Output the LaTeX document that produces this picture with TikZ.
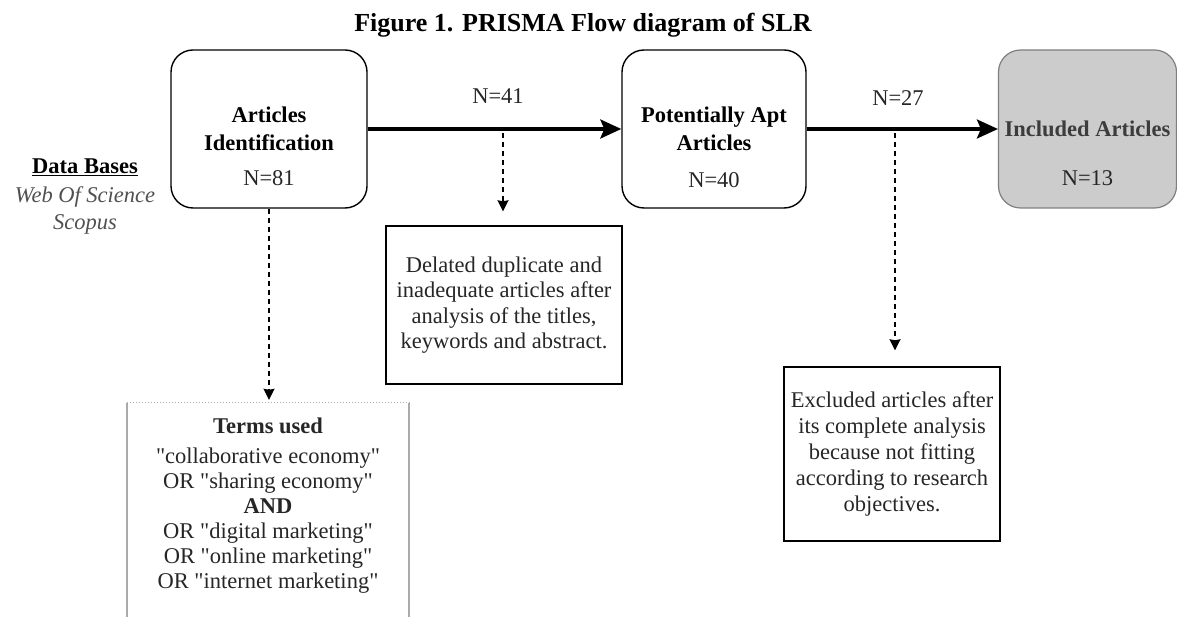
\documentclass[tikz,border=0pt]{standalone}
\usepackage{fontspec}
\setmainfont{Liberation Serif}[Ligatures=TeXOff]
\usetikzlibrary{arrows.meta,calc}
\definecolor{incfill}{HTML}{CCCCCC}
\definecolor{incdraw}{HTML}{7F7F7F}
\definecolor{inctext}{HTML}{3C3C3C}
\definecolor{dbgray}{HTML}{505050}
\definecolor{termline}{HTML}{AAAAAA}
\tikzset{
  txt/.style={font=\fontsize{22.5}{25.5}\selectfont, align=center, inner sep=0pt, text=black!85},
  btxt/.style={txt, font=\fontsize{22.5}{28}\selectfont\bfseries, text=black},
  rbox/.style={draw, line width=1.4pt, rounded corners=22pt, inner sep=0pt},
  sbox/.style={draw, line width=1.4pt, inner sep=0pt},
  mainarrow/.style={line width=3.2pt, -{Stealth[length=21pt,width=19pt,inset=4pt]}},
  dasharrow/.style={line width=1.5pt, dash pattern=on 5pt off 4pt, -{Stealth[length=11pt,width=11pt,inset=1pt]}},
}
\begin{document}
\begin{tikzpicture}[x=1pt,y=-1pt]
\useasboundingbox (0,0) rectangle (1177,617);

% title
\node[font=\fontsize{26}{28}\selectfont\bfseries, inner sep=0pt] (title) at (583,25) {Figure 1. PRISMA Flow diagram of SLR};

% data bases
\node[txt, font=\fontsize{22.5}{25.5}\selectfont\bfseries, text=black] (db) at (85,167) {\underline{Data Bases}};
\node[txt, font=\fontsize{22.5}{25.5}\selectfont\itshape, text=dbgray] (wos) at (85,197) {Web Of Science};
\node[txt, font=\fontsize{22.5}{25.5}\selectfont\itshape, text=dbgray] (sco) at (85,224) {Scopus};

% main boxes
\node[rbox, btxt, minimum width=196pt, minimum height=158pt] (b1) at (269,129) {Articles\\Identification};
\node[txt] (n81) at (269,178) {N=81};
\node[rbox, btxt, minimum width=184pt, minimum height=158pt] (b2) at (714,129) {Potentially Apt\\Articles};
\node[txt] (n40) at (714,180) {N=40};
\node[rbox, btxt, draw=incdraw, fill=incfill, line width=1.2pt, text=inctext, minimum width=178pt, minimum height=158pt] (b3) at (1087.5,129) {Included Articles};
\node[txt] (n13) at (1087.5,178) {N=13};

% main arrows
\draw[mainarrow] (b1.east) -- (b2.west);
\draw[mainarrow] (b2.east) -- (b3.west);
\node[txt] (l41) at (498,96) {N=41};
\node[txt] (l27) at (898,98) {N=27};

% side boxes
\node[sbox, txt, minimum width=236pt, minimum height=158pt] (del) at (504,305)
  {Delated duplicate and\\inadequate articles after\\analysis of the titles,\\keywords and abstract.};
\node[sbox, txt, font=\fontsize{22.5}{26.2}\selectfont, minimum width=216pt, minimum height=174pt] (exc) at (892,454)
  {Excluded articles after\\its complete analysis\\because not fitting\\according to research\\objectives.};

% terms box
\node[minimum width=282pt, minimum height=214pt, inner sep=0pt] (terms) at (268,510) {};
\draw[termline, line width=2pt] (terms.north west) -- (terms.south west);
\draw[termline, line width=2pt] (terms.north east) -- (terms.south east);
\draw[termline, line width=1pt, dotted] (terms.north west) -- (terms.north east);
\node[txt, font=\fontsize{22.5}{25}\selectfont] (termstxt) at (268,506)
  {\textbf{Terms used}\\[5pt]"collaborative economy"\\OR "sharing economy"\\\textbf{AND}\\OR "digital marketing"\\OR "online marketing"\\OR "internet marketing"};

% dashed arrows
\coordinate (d1) at (503,133);
\coordinate (d2) at (895,133);
\draw[dasharrow, shorten >=14pt] (d1) -- (d1 |- del.north);
\draw[dasharrow, shorten >=16pt] (d2) -- (d2 |- exc.north);
\draw[dasharrow, shorten >=3pt] (b1.south) -- (b1.south |- terms.north);
\end{tikzpicture}
\end{document}
